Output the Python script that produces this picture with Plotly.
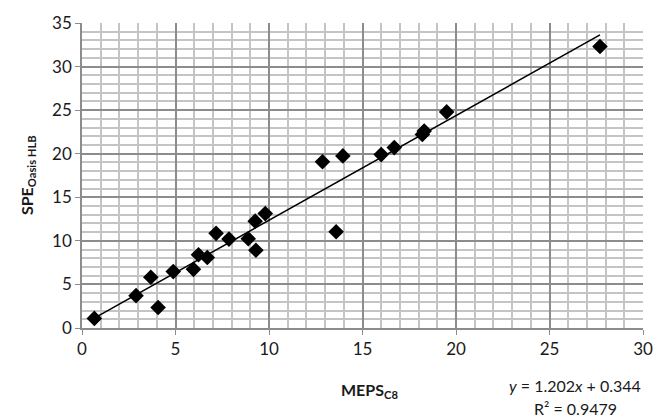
import plotly.graph_objects as go

meps_c8 = [0.66, 2.89, 3.68, 4.07, 4.88, 5.96, 6.23, 6.70, 7.17, 7.86, 8.89, 9.30, 9.26, 9.80,
           12.86, 13.95, 13.59, 16.0, 16.7, 18.2, 18.3, 19.5, 27.7]
spe_oasis = [1.10, 3.71, 5.83, 2.35, 6.47, 6.73, 8.40, 8.09, 10.86, 10.2, 10.25, 8.93, 12.26, 13.13,
             19.07, 19.75, 11.04, 19.9, 20.7, 22.2, 22.6, 24.8, 32.3]
slope = 1.202
intercept = 0.344
r2 = 0.9479

font = "Lato, 'Open Sans', sans-serif"

xmin, xmax = min(meps_c8), max(meps_c8)
fig = go.Figure()
fig.add_trace(go.Scatter(x=[xmin, xmax], y=[slope * xmin + intercept, slope * xmax + intercept],
                         mode="lines", line=dict(color="black", width=1.5), showlegend=False,
                         hoverinfo="skip"))
fig.add_trace(go.Scatter(x=meps_c8, y=spe_oasis, mode="markers",
                         marker=dict(symbol="diamond", size=12, color="black"),
                         showlegend=False))

fig.update_layout(
    width=665, height=418,
    margin=dict(l=82, r=13, t=20, b=90),
    plot_bgcolor="white", paper_bgcolor="white",
    font=dict(family=font, size=16, color="#1a1a1a"),
    xaxis=dict(range=[0, 30], tick0=0, dtick=5, showgrid=True, gridcolor="#8c8c8c", gridwidth=1.5,
               minor=dict(dtick=1, showgrid=True, gridcolor="#c4c4c4", gridwidth=1.5),
               showline=True, linecolor="#8c8c8c", linewidth=1.5, mirror=False,
               ticks="outside", ticklen=5, tickcolor="#8c8c8c", zeroline=False,
               tickfont=dict(size=17, family=font)),
    yaxis=dict(range=[0, 35], tick0=0, dtick=5, showgrid=True, gridcolor="#8c8c8c", gridwidth=1.5,
               minor=dict(dtick=1, showgrid=True, gridcolor="#c4c4c4", gridwidth=1.5),
               showline=True, linecolor="#8c8c8c", linewidth=1.5,
               ticks="outside", ticklen=5, tickcolor="#8c8c8c", zeroline=False,
               tickfont=dict(size=17, family=font)),
    annotations=[
        dict(text="<b>MEPS<sub>C8</sub></b>", x=0.512, y=-0.205, xref="paper", yref="paper",
             showarrow=False, font=dict(size=16, family=font), xanchor="center", yanchor="middle"),
        dict(text="<b>SPE<sub>Oasis HLB</sub></b>", x=-0.097, y=0.5, xref="paper", yref="paper",
             showarrow=False, textangle=-90, font=dict(size=16, family=font),
             xanchor="center", yanchor="middle"),
        dict(text=f"<i>y</i> = {slope:.3f}<i>x</i> + {intercept:.3f}", x=0.879, y=-0.19,
             xref="paper", yref="paper", showarrow=False, font=dict(size=16, family=font),
             xanchor="center", yanchor="middle"),
        dict(text=f"R² = {r2:.4f}", x=0.879, y=-0.264, xref="paper", yref="paper",
             showarrow=False, font=dict(size=16, family=font), xanchor="center", yanchor="middle"),
    ],
)
fig.write_html("out.html", config={"displayModeBar": False},
               post_script="document.body.style.margin='0';")
